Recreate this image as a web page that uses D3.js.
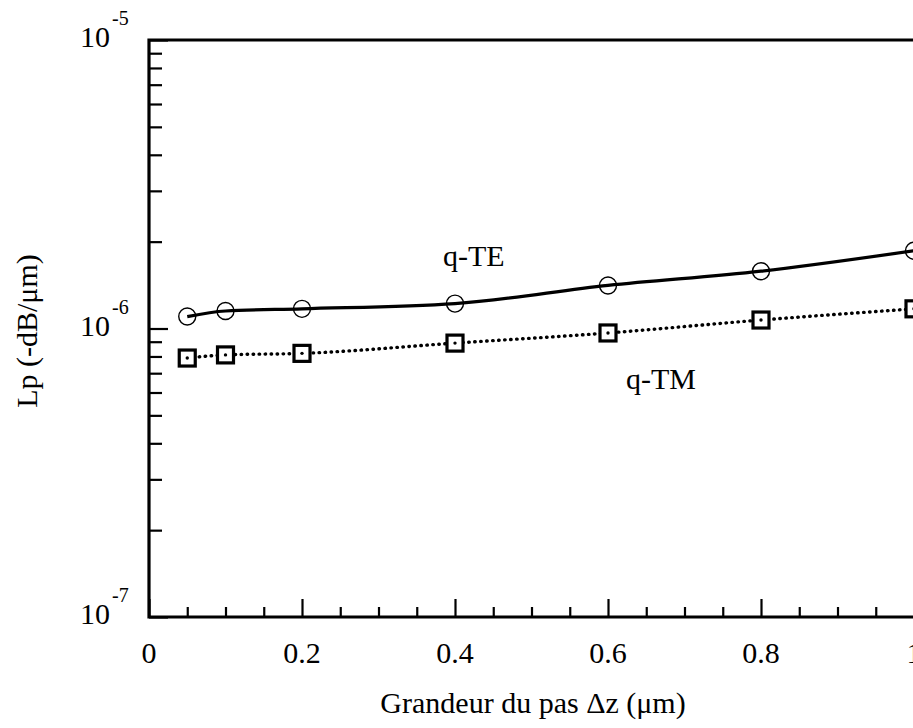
<!DOCTYPE html>
<html>
<head>
<meta charset="utf-8">
<script src="https://cdn.jsdelivr.net/npm/d3@7"></script>
<style>
    html, body { margin: 0; padding: 0; background: #fff; }
    svg { display: block; }
    text { font-family: "Liberation Serif", "DejaVu Serif", serif; fill: #000; }
</style>
</head>
<body>
<svg id="chart" width="913" height="728"></svg>
<script>
// step size (µm) and propagation loss for the two quasi modes
const stepSizes = [0.05, 0.1, 0.2, 0.4, 0.6, 0.8, 1.0];
const lossTE = [1.10e-6, 1.15e-6, 1.17e-6, 1.22e-6, 1.41e-6, 1.58e-6, 1.86e-6];
const lossTM = [0.79e-6, 0.81e-6, 0.82e-6, 0.89e-6, 0.965e-6, 1.07e-6, 1.17e-6];

const xMajorTicks = [0, 0.2, 0.4, 0.6, 0.8, 1];
const xTickLabels = ['0', '0.2', '0.4', '0.6', '0.8', '1'];
const yDecades = [1e-7, 1e-6, 1e-5];
const yDecadeLabels = ['-7', '-6', '-5'];

const svg = d3.select('#chart');
const plot = {left: 149, right: 914, top: 40, bottom: 617};
const fontSize = 30;

const x = d3.scaleLinear().domain([0, 1]).range([plot.left, plot.right]);
const y = d3.scaleLog().domain([1e-7, 1e-5]).range([plot.bottom, plot.top]);

// minor ticks: every 0.05 on x, 2..9 per decade on y
const xMinorTicks = d3.range(0, 1.0001, 0.05).filter((v) => !xMajorTicks.some((m) => Math.abs(m - v) < 1e-6));
const yMinorTicks = [];
yDecades.slice(0, -1).forEach((d) => {
    for (let k = 2; k <= 9; k++) yMinorTicks.push(d * k);
});

function styleAxis(g) {
    g.select('.domain').remove();
    g.selectAll('.tick line').attr('stroke', '#000').attr('stroke-width', 2.2);
}

svg.append('g')
    .attr('transform', `translate(0, ${plot.bottom})`)
    .call(d3.axisBottom(x).tickValues(xMinorTicks).tickSize(-10).tickFormat(''))
    .call(styleAxis);
svg.append('g')
    .attr('transform', `translate(0, ${plot.bottom})`)
    .call(d3.axisBottom(x).tickValues(xMajorTicks).tickSize(-18).tickFormat(''))
    .call(styleAxis);

svg.append('g')
    .attr('transform', `translate(${plot.left}, 0)`)
    .call(d3.axisLeft(y).tickValues(yMinorTicks).tickSize(-13).tickFormat(''))
    .call(styleAxis);
svg.append('g')
    .attr('transform', `translate(${plot.left}, 0)`)
    .call(d3.axisLeft(y).tickValues(yDecades).tickSize(-19).tickFormat(''))
    .call(styleAxis);

// frame: left, bottom, top (right side falls off the page)
svg.append('path')
    .attr('d', `M${plot.right + 5},${plot.top}H${plot.left}V${plot.bottom}H${plot.right + 5}`)
    .attr('fill', 'none')
    .attr('stroke', '#000')
    .attr('stroke-width', 3.2)
    .attr('stroke-linecap', 'square');

// tick labels
svg.append('g')
    .selectAll('text')
    .data(xMajorTicks)
    .join('text')
    .attr('x', (d) => x(d))
    .attr('y', plot.bottom + 46)
    .attr('text-anchor', 'middle')
    .attr('font-size', fontSize)
    .text((d, i) => xTickLabels[i]);

const yLabels = svg.append('g')
    .selectAll('text')
    .data(yDecades)
    .join('text')
    .attr('x', 80)
    .attr('y', (d) => y(d) + 7)
    .attr('font-size', fontSize);
yLabels.append('tspan').text('10');
yLabels.append('tspan')
    .attr('dx', 2)
    .attr('dy', -22)
    .attr('font-size', 20)
    .text((d, i) => yDecadeLabels[i]);

// axis titles
svg.append('text')
    .attr('x', 533)
    .attr('y', 713)
    .attr('text-anchor', 'middle')
    .attr('font-size', fontSize)
    .text('Grandeur du pas \u0394z (\u03bcm)');

svg.append('text')
    .attr('transform', 'translate(37, 331) rotate(-90)')
    .attr('text-anchor', 'middle')
    .attr('font-size', fontSize)
    .text('Lp (-dB/\u03bcm)');

// series
const teData = stepSizes.map((s, i) => ({x: s, y: lossTE[i]}));
const tmData = stepSizes.map((s, i) => ({x: s, y: lossTM[i]}));

const line = d3.line()
    .x((d) => x(d.x))
    .y((d) => y(d.y))
    .curve(d3.curveMonotoneX);

svg.append('path')
    .datum(teData)
    .attr('d', line)
    .attr('fill', 'none')
    .attr('stroke', '#000')
    .attr('stroke-width', 3.2);

svg.append('path')
    .datum(tmData)
    .attr('d', line)
    .attr('fill', 'none')
    .attr('stroke', '#000')
    .attr('stroke-width', 3.4)
    .attr('stroke-linecap', 'round')
    .attr('stroke-dasharray', '0.5,5.5');

svg.append('g')
    .selectAll('circle')
    .data(teData)
    .join('circle')
    .attr('cx', (d) => x(d.x))
    .attr('cy', (d) => y(d.y))
    .attr('r', 8.5)
    .attr('fill', 'none')
    .attr('stroke', '#000')
    .attr('stroke-width', 1.4);

const squares = svg.append('g')
    .selectAll('g')
    .data(tmData)
    .join('g')
    .attr('transform', (d) => `translate(${x(d.x)}, ${y(d.y)})`);
squares.append('rect')
    .attr('x', -8)
    .attr('y', -8)
    .attr('width', 16)
    .attr('height', 16)
    .attr('fill', '#fff')
    .attr('stroke', '#000')
    .attr('stroke-width', 3.2);
squares.append('circle')
    .attr('r', 1.7)
    .attr('fill', '#000');

// series labels
svg.append('text')
    .attr('x', 443)
    .attr('y', 266)
    .attr('font-size', fontSize)
    .text('q-TE');
svg.append('text')
    .attr('x', 626)
    .attr('y', 389)
    .attr('font-size', fontSize)
    .text('q-TM');
</script>
</body>
</html>
